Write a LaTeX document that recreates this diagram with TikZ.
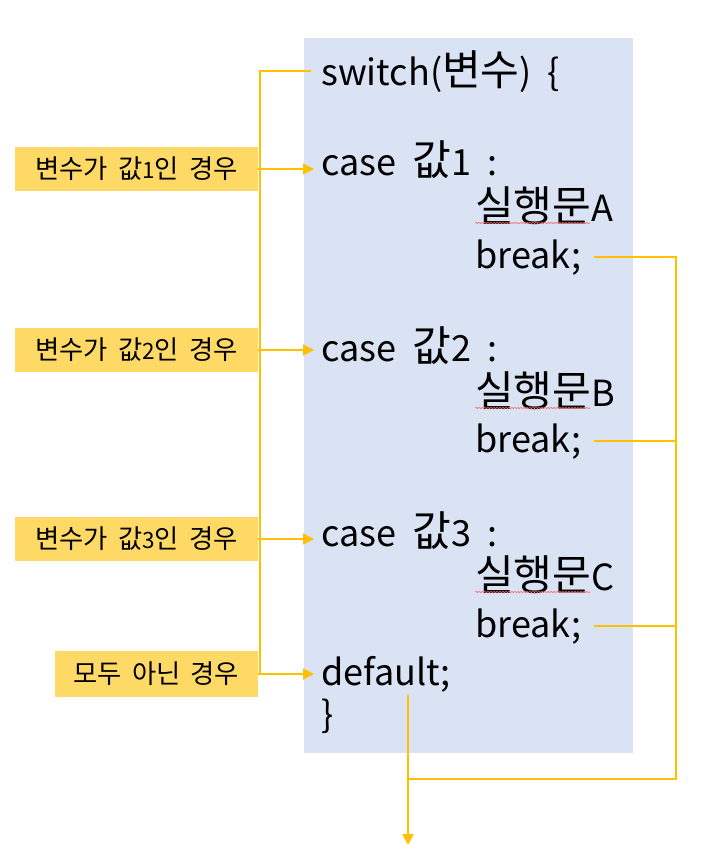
\documentclass[tikz,border=0pt]{standalone}
\usepackage{fontspec}
\setmainfont{Noto Sans CJK KR}
\newfontfamily\hfont{Noto Sans CJK KR}[Scale=1.17]
\newcommand\kr[1]{{\hfont #1}}
\usetikzlibrary{arrows.meta,positioning,calc,decorations.pathmorphing}
\definecolor{Panel}{HTML}{DAE3F3}
\definecolor{Amber}{HTML}{FFC000}
\definecolor{Tag}{HTML}{FFD966}

\begin{document}
\begin{tikzpicture}[x=1pt,y=-1pt,
  code/.style={anchor=base west,inner sep=0pt,font=\fontsize{36}{36}\selectfont},
  tag/.style={fill=Tag,inner sep=0pt,minimum height=44pt,font=\fontsize{22.5}{22.5}\selectfont},
  link/.style={draw=Amber,line width=1.8pt},
  flow/.style={link,-{Triangle[length=11pt,width=11pt]}},
  squiggle/.style={draw=red!60,line width=0.6pt,decorate,
    decoration={snake,amplitude=0.7pt,segment length=3pt}}]
  \useasboundingbox (0,0) rectangle (708,867);
  \fill[Panel] (304,38) rectangle (633,753);
  % code lines
  \node[code] (sw) at (321,85)  {switch(\kr{변수})\ \ \{};
  \node[code] (c1) at (321,175) {case\ \ \kr{값}1\ \ :};
  \node[code] (sA) at (475,221) {\kr{실행문}A};
  \node[code] (bA) at (475,268) {break;};
  \node[code] (c2) at (321,361) {case\ \ \kr{값}2\ \ :};
  \node[code] (sB) at (475,406) {\kr{실행문}B};
  \node[code] (bB) at (475,452) {break;};
  \node[code] (c3) at (321,546) {case\ \ \kr{값}3\ \ :};
  \node[code] (sC) at (475,590) {\kr{실행문}C};
  \node[code] (bC) at (475,637) {break;};
  \node[code] (df) at (321,685) {default;};
  \node[code] (cl) at (321,727) {\}};
  % spell-check marks
  \foreach \s in {sA,sB,sC}
    \draw[squiggle] ([yshift=-2pt]\s.base west) -- ++(115,0);
  % case labels
  \node[tag,minimum width=243pt] (t1) at (136.5,169) {\kr{변수가}\ \ \kr{값}1\kr{인}\ \ \kr{경우}};
  \node[tag,minimum width=243pt] (t2) at (136.5,350) {\kr{변수가}\ \ \kr{값}2\kr{인}\ \ \kr{경우}};
  \node[tag,minimum width=243pt] (t3) at (136.5,539) {\kr{변수가}\ \ \kr{값}3\kr{인}\ \ \kr{경우}};
  \node[tag,minimum width=203pt,minimum height=46pt] (t4) at (156.5,674) {\kr{모두}\ \ \kr{아닌}\ \ \kr{경우}};
  % left bar
  \draw[link] ([xshift=-10pt]sw.west) -| ([xshift=2pt]t4.east);
  \foreach \t/\c in {t1/c1,t2/c2,t3/c3,t4/df}
    \draw[flow] (\t.east) -- ([xshift=-7pt]\t.east -| \c.west);
  % right bar
  \coordinate (jn) at (676,779);
  \coordinate (dfout) at (408,695);
  \coordinate (exit) at (408,845);
  \draw[link] ([xshift=13pt]bA.east) -| (jn) -- (jn -| dfout);
  \draw[link] ([xshift=13pt]bB.east) -- (bB.east -| jn);
  \draw[link] ([xshift=13pt]bC.east) -- (bC.east -| jn);
  \draw[flow] (dfout) -- (exit);
\end{tikzpicture}
\end{document}
